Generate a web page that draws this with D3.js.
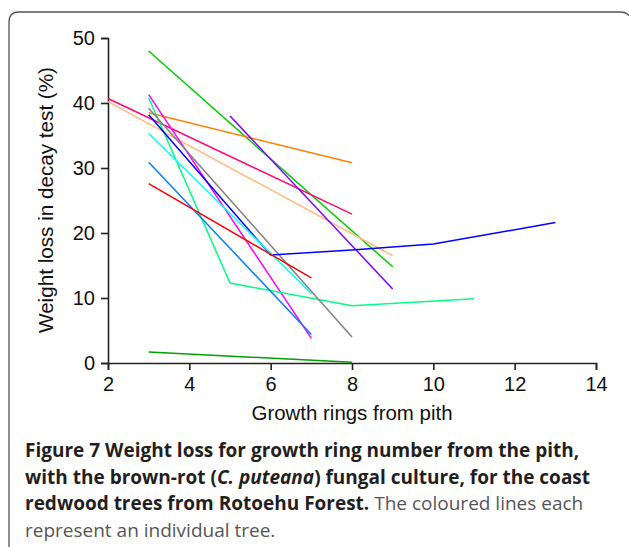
<!DOCTYPE html>
<html>
<head>
<meta charset="utf-8">
<script src="https://cdn.jsdelivr.net/npm/d3@7"></script>
<style>
  body { margin: 0; background: #fff; }
  svg { display: block; }
</style>
</head>
<body>
<svg id="viz"></svg>
<script>
// ------------------------------------------------------------
// DATA (one entry per tree)

var treeColors = ["#00cc00", "#ff8000", "#ff0a78", "#ffbb80", "#8000ff", "#ff00ff",
                  "#00ff80", "#808080", "#0000ff", "#00ffff", "#0080ff", "#ff0000", "#00a000"];

var treeRings = [
  [3, 9],
  [3, 8],
  [2, 8],
  [2, 9],
  [5, 9],
  [3, 7],
  [3, 5, 8, 11],
  [3, 8],
  [3, 6, 8, 10, 13],
  [3, 7],
  [3, 7],
  [3, 7],
  [3, 8]
];

var treeLoss = [
  [48.0, 14.8],
  [38.5, 30.8],
  [40.7, 22.9],
  [40.2, 16.5],
  [38.0, 11.4],
  [41.3, 3.8],
  [40.8, 12.3, 8.8, 9.9],
  [39.2, 4.0],
  [38.2, 16.6, 17.4, 18.3, 21.6],
  [35.3, 10.7],
  [30.9, 4.4],
  [27.6, 13.1],
  [1.7, 0.1]
];

var xTicks = [2, 4, 6, 8, 10, 12, 14];
var yTicks = [0, 10, 20, 30, 40, 50];

// ------------------------------------------------------------
// SETUP

var w = 629;
var h = 547;
var viz = d3.select("#viz").attr("width", w).attr("height", h);

// frame round the figure (open at the bottom)
viz.append("path")
  .attr("d", "M9,547 L9,22 Q9,12 19,12 L619,12 Q627,12 629,16")
  .attr("fill", "none")
  .attr("stroke", "#555")
  .attr("stroke-width", 1.3);

var x = d3.scaleLinear().domain([2, 14]).range([108, 596]);
var y = d3.scaleLinear().domain([0, 50]).range([363, 38]);

// ------------------------------------------------------------
// AXES

var xAxis = viz.append("g")
  .attr("transform", "translate(0," + y(0) + ")")
  .call(d3.axisBottom(x).tickValues(xTicks).tickSizeOuter(0).tickSize(7).tickPadding(7));

var yAxis = viz.append("g")
  .attr("transform", "translate(" + x(2) + ",0)")
  .call(d3.axisLeft(y).tickValues(yTicks).tickSizeOuter(0).tickSize(7).tickPadding(6));

viz.selectAll(".domain, .tick line")
  .attr("stroke", "#222")
  .attr("stroke-width", 1.6);

[xAxis, yAxis].forEach(function(g) {
  g.attr("font-size", 20).attr("font-family", "'Liberation Sans', Arial, sans-serif");
});

viz.selectAll(".tick text")
  .attr("fill", "#111")
  .style("font-family", "'Liberation Sans', Arial, sans-serif")
  .style("font-size", "20px");

viz.append("text")
  .text("Growth rings from pith")
  .attr("x", 352)
  .attr("y", 420)
  .attr("text-anchor", "middle")
  .attr("textLength", 201)
  .attr("lengthAdjust", "spacingAndGlyphs")
  .attr("fill", "#111")
  .style("font-family", "'Liberation Sans', Arial, sans-serif")
  .style("font-size", "19.5px");

viz.append("text")
  .text("Weight loss in decay test (%)")
  .attr("transform", "translate(53,200) rotate(-90)")
  .attr("text-anchor", "middle")
  .attr("textLength", 266)
  .attr("lengthAdjust", "spacingAndGlyphs")
  .attr("fill", "#111")
  .style("font-family", "'Liberation Sans', Arial, sans-serif")
  .style("font-size", "19.5px");

// ------------------------------------------------------------
// LINES

var line = d3.line()
  .x(function(d) { return x(d[0]); })
  .y(function(d) { return y(d[1]); });

viz.selectAll("path.tree")
  .data(treeRings)
  .enter()
  .append("path")
  .attr("class", "tree")
  .attr("d", function(d, i) {
    return line(d.map(function(r, j) { return [r, treeLoss[i][j]]; }));
  })
  .attr("fill", "none")
  .attr("stroke", function(d, i) { return treeColors[i]; })
  .attr("stroke-width", 1.5);

// ------------------------------------------------------------
// CAPTION

var capLines = [
  [["b", "Figure 7 Weight loss for growth ring number from the pith,"]],
  [["b", "with the brown-rot ("], ["bi", "C. puteana"], ["b", ") fungal culture, for the coast"]],
  [["b", "redwood trees from Rotoehu Forest."], ["r", " The coloured lines each"]],
  [["r", "represent an individual tree."]]
];

var cap = viz.append("text")
  .style("font-family", "'Open Sans', sans-serif")
  .style("font-size", "19px");

capLines.forEach(function(parts, i) {
  parts.forEach(function(p, j) {
    var t = cap.append("tspan").text(p[1]);
    if (j === 0) t.attr("x", 25).attr("y", 457 + i * 26.7);
    t.attr("font-weight", p[0] === "r" ? "normal" : "bold")
     .attr("font-style", p[0] === "bi" ? "italic" : "normal")
     .attr("fill", p[0] === "r" ? "#555" : "#231f20");
  });
});
</script>
</body>
</html>
